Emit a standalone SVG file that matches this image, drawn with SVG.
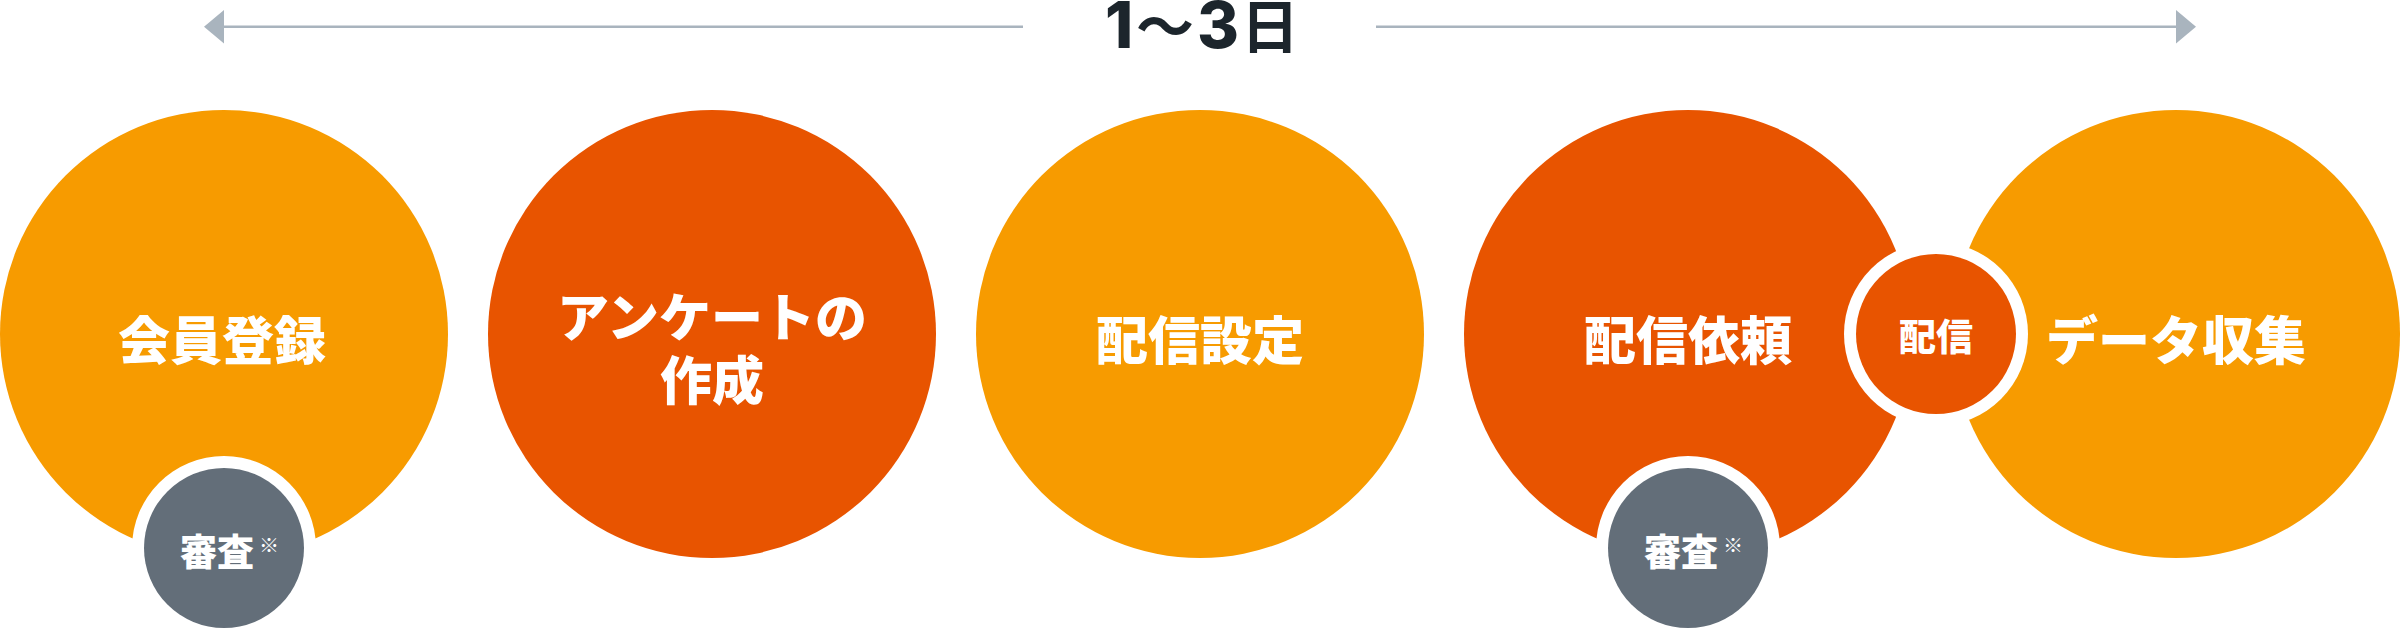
<svg xmlns="http://www.w3.org/2000/svg" width="2400" height="640" viewBox="0 0 2400 640">
<defs>
<style>
.lo{fill:#F79B00}
.dk{fill:#E85400}
.gy{fill:#636E79}
.wh{fill:#FFFFFF}
.t{font-family:"Noto Sans CJK JP","Noto Sans",sans-serif;font-weight:900;fill:#FFFFFF}
.big{font-size:52px;text-anchor:middle}
.sm{font-size:37px}
.note{font-size:20px}
.arr{stroke:#A9B4BE;stroke-width:2.5;fill:none}
.head{fill:#A9B4BE}
.title{font-family:"Noto Sans CJK JP","Noto Sans",sans-serif;font-weight:700;font-size:58px;fill:#1C252C;text-anchor:middle}
.dig{font-family:Inter,"Liberation Sans",sans-serif;font-weight:800;font-size:64px}
</style>
</defs>
<rect width="2400" height="640" fill="#FFFFFF"/>
<g id="connectors">
<line class="arr" x1="222" y1="26.7" x2="1023" y2="26.7"/>
<polygon class="head" points="204,26.7 224,10 224,43.4"/>
<line class="arr" x1="1376" y1="26.7" x2="2178" y2="26.7"/>
<polygon class="head" points="2196,26.7 2176,10 2176,43.4"/>
</g>
<g id="title"><text class="title" y="48"><tspan class="dig" x="1119">1</tspan><tspan x="1165">〜</tspan><tspan class="dig" x="1218">3</tspan><tspan x="1270">日</tspan></text></g>
<g id="node-kaiin">
<circle class="lo" cx="224" cy="334" r="224"/>
<text class="t big" x="222" y="360">会員登録</text>
</g>
<g id="node-enquete">
<circle class="dk" cx="712" cy="334" r="224"/>
<text class="t big" x="712" y="337">アンケートの</text>
<text class="t big" x="712" y="400">作成</text>
</g>
<g id="node-haishin-settei">
<circle class="lo" cx="1200" cy="334" r="224"/>
<text class="t big" x="1200" y="360">配信設定</text>
</g>
<g id="node-haishin-irai">
<circle class="dk" cx="1688" cy="334" r="224"/>
<text class="t big" x="1688" y="360">配信依頼</text>
</g>
<g id="node-data">
<circle class="lo" cx="2176" cy="334" r="224"/>
<text class="t big" x="2176" y="360">データ収集</text>
</g>
<g id="node-shinsa-1">
<circle class="wh" cx="224" cy="548" r="92"/>
<circle class="gy" cx="224" cy="548" r="80"/>
<text class="t sm" x="180" y="566">審査</text>
<text class="t note" x="259" y="553">※</text>
</g>
<g id="node-shinsa-2">
<circle class="wh" cx="1688" cy="548" r="92"/>
<circle class="gy" cx="1688" cy="548" r="80"/>
<text class="t sm" x="1644" y="566">審査</text>
<text class="t note" x="1723" y="553">※</text>
</g>
<g id="node-haishin">
<circle class="wh" cx="1936" cy="334" r="92"/>
<circle class="dk" cx="1936" cy="334" r="80"/>
<text class="t sm" x="1936" y="351" text-anchor="middle">配信</text>
</g>
</svg>
